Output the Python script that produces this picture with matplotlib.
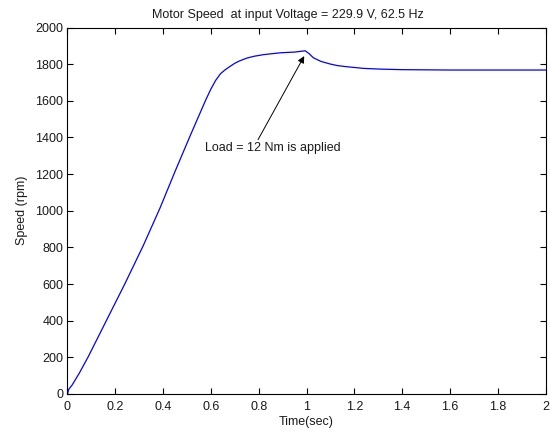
import matplotlib
matplotlib.use("Agg")
import matplotlib.pyplot as plt

plt.rcParams["font.family"] = ["Liberation Sans", "DejaVu Sans"]

# speed curve (time in s, speed in rpm)
time_s = [0, 0.005, 0.02, 0.05, 0.087, 0.164, 0.241, 0.317, 0.387, 0.45,
          0.515, 0.578, 0.6, 0.62, 0.64, 0.66, 0.68, 0.70, 0.72, 0.75, 0.78,
          0.82, 0.89, 0.95, 0.994, 1.01, 1.028, 1.06, 1.098, 1.13, 1.168,
          1.238, 1.307, 1.4, 1.6, 2.0]
speed_rpm = [0, 25, 50, 115, 204, 404, 604, 810, 1015, 1215,
             1415, 1604, 1665, 1712, 1748, 1770, 1788, 1805, 1818, 1833, 1843,
             1852, 1862, 1866, 1873, 1858, 1835, 1815, 1801, 1792, 1786,
             1777, 1773, 1770, 1768, 1768]

x_ticks = [0, 0.2, 0.4, 0.6, 0.8, 1, 1.2, 1.4, 1.6, 1.8, 2]
x_tick_labels = ["0", "0.2", "0.4", "0.6", "0.8", "1", "1.2", "1.4", "1.6", "1.8", "2"]
y_ticks = list(range(0, 2001, 200))

load_point = (0.99, 1844)
load_text_pos = (0.575, 1340)

text_col = "#1a1a1a"

fig = plt.figure(figsize=(5.5, 4.34), dpi=100)
ax = fig.add_axes([0.1227, 0.0922, 0.8695, 0.8444])

ax.plot(time_s, speed_rpm, color="#0000ff", lw=0.9)

ax.set_xlim(0, 2)
ax.set_ylim(0, 2000)
ax.set_xticks(x_ticks)
ax.set_xticklabels(x_tick_labels)
ax.set_yticks(y_ticks)
ax.tick_params(direction="in", top=True, right=True, length=4, width=0.8,
               labelsize=9, pad=5, labelcolor=text_col)
ax.tick_params(axis="y", pad=3)
for sp in ax.spines.values():
    sp.set_linewidth(0.8)

# MATLAB placed the title a little left of the axes centre
ax.set_title("Motor Speed  at input Voltage = 229.9 V, 62.5 Hz", fontsize=9,
             pad=7, x=0.46, color=text_col)
ax.set_xlabel("Time(sec)", fontsize=9, labelpad=2, color=text_col)
ax.set_ylabel("Speed (rpm)", fontsize=9, labelpad=5, color=text_col)

ax.annotate("Load = 12 Nm is applied", xy=load_point, xytext=load_text_pos,
            ha="left", va="center", fontsize=9, color=text_col,
            arrowprops=dict(arrowstyle="-|>", color="black", lw=0.7,
                            mutation_scale=10, shrinkA=0, shrinkB=0,
                            relpos=(0.38, 1.0)))

fig.savefig("out.png", dpi=100)
